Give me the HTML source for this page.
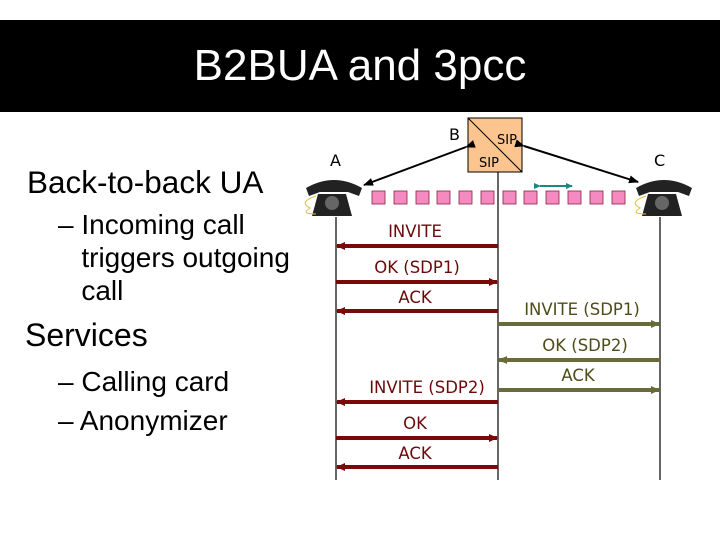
<!DOCTYPE html>
<html><head><meta charset="utf-8"><style>
body{margin:0;width:720px;height:540px;background:#fff;position:relative;overflow:hidden;font-family:"Liberation Sans",sans-serif}
.t{position:absolute;white-space:nowrap}
</style></head><body>
<div style="position:absolute;left:0;top:20px;width:720px;height:92px;background:#000"></div>
<div class="t" style="left:0;width:720px;text-align:center;top:41px;font-size:44px;color:#fff">B2BUA and 3pcc</div>
<div class="t" style="left:27px;top:164px;font-size:31.5px">Back-to-back UA</div>
<div class="t" style="left:58px;top:208px;font-size:28px;line-height:33px">– Incoming call<br>&nbsp;&nbsp;&nbsp;triggers outgoing<br>&nbsp;&nbsp;&nbsp;call</div>
<div class="t" style="left:25px;top:317px;font-size:32px">Services</div>
<div class="t" style="left:58px;top:362px;font-size:28px;line-height:39px">– Calling card<br>– Anonymizer</div>
<svg width="720" height="540" style="position:absolute;left:0;top:0" font-family="DejaVu Sans, sans-serif">
<defs>
<marker id="m" markerUnits="userSpaceOnUse" markerWidth="10" markerHeight="8" refX="9" refY="4" orient="auto"><path d="M0,0 L10,4 L0,8z" fill="#000"/></marker>
<marker id="r" markerUnits="userSpaceOnUse" markerWidth="9" markerHeight="8" refX="8" refY="4" orient="auto"><path d="M0,0 L9,4 L0,8z" fill="#7a0a0a"/></marker>
<marker id="g" markerUnits="userSpaceOnUse" markerWidth="9" markerHeight="8" refX="8" refY="4" orient="auto"><path d="M0,0 L9,4 L0,8z" fill="#6b6b3a"/></marker>
<marker id="c" markerUnits="userSpaceOnUse" markerWidth="7" markerHeight="6" refX="6" refY="3" orient="auto"><path d="M0,0 L7,3 L0,6z" fill="#1a8a80"/></marker>
</defs>
<rect x="468" y="118" width="54" height="54" fill="#fcc58f" stroke="#000"/>
<line x1="468" y1="118" x2="522" y2="172" stroke="#000"/>
<text x="497" y="144" font-size="13">SIP</text>
<text x="479" y="167" font-size="13">SIP</text>
<text x="449" y="140" font-size="16">B</text>
<text x="330" y="166" font-size="16">A</text>
<text x="654" y="166" font-size="16">C</text>
<line x1="466" y1="147" x2="364" y2="185" stroke="#000" stroke-width="2" marker-start="url(#m)" marker-end="url(#m)"/>
<line x1="524" y1="146" x2="638" y2="182" stroke="#000" stroke-width="2" marker-start="url(#m)" marker-end="url(#m)"/>
<g fill="#f48ac0" stroke="#8a2040" stroke-width="0.8">
<rect x="372" y="191" width="13" height="13"/><rect x="394" y="191" width="13" height="13"/><rect x="416" y="191" width="13" height="13"/><rect x="437" y="191" width="13" height="13"/><rect x="459" y="191" width="13" height="13"/><rect x="481" y="191" width="13" height="13"/><rect x="503" y="191" width="13" height="13"/><rect x="524" y="191" width="13" height="13"/><rect x="546" y="191" width="13" height="13"/><rect x="568" y="191" width="13" height="13"/><rect x="590" y="191" width="13" height="13"/><rect x="612" y="191" width="13" height="13"/>
</g>
<line x1="540" y1="186" x2="572" y2="186" stroke="#1a8a80" stroke-width="2" marker-start="url(#c)" marker-end="url(#c)"/>
<g fill="#222">
<path d="M306,188 Q334,172 362,188 L359,196 L348,192 L320,192 L309,196z"/>
<path d="M318,194 L346,194 L352,216 L312,216z"/>
<circle cx="332" cy="203" r="7" fill="#666"/>
<path d="M636,188 Q664,172 692,188 L689,196 L678,192 L650,192 L639,196z"/>
<path d="M648,194 L676,194 L682,216 L642,216z"/>
<circle cx="662" cy="203" r="7" fill="#666"/>
</g>
<path d="M316,196 Q298,202 310,208 Q300,214 316,214" stroke="#e0c040" fill="none"/>
<path d="M646,196 Q628,202 640,208 Q630,214 646,214" stroke="#e0c040" fill="none"/>
<g stroke="#000" stroke-width="1.2">
<line x1="336" y1="217" x2="336" y2="480"/>
<line x1="498" y1="172" x2="498" y2="480"/>
<line x1="660" y1="217" x2="660" y2="480"/>
</g>
<g stroke="#7a0a0a" stroke-width="4">
<line x1="498" y1="246" x2="337" y2="246" marker-end="url(#r)"/>
<line x1="336" y1="282" x2="497" y2="282" marker-end="url(#r)"/>
<line x1="498" y1="311" x2="337" y2="311" marker-end="url(#r)"/>
<line x1="498" y1="402" x2="337" y2="402" marker-end="url(#r)"/>
<line x1="336" y1="438" x2="497" y2="438" marker-end="url(#r)"/>
<line x1="498" y1="467" x2="337" y2="467" marker-end="url(#r)"/>
</g>
<g stroke="#6b6b3a" stroke-width="4">
<line x1="498" y1="324" x2="659" y2="324" marker-end="url(#g)"/>
<line x1="660" y1="360" x2="499" y2="360" marker-end="url(#g)"/>
<line x1="498" y1="390" x2="659" y2="390" marker-end="url(#g)"/>
</g>
<g fill="#6b0a0a" font-size="16.5" text-anchor="middle">
<text x="415" y="237">INVITE</text>
<text x="417" y="273">OK (SDP1)</text>
<text x="415" y="303">ACK</text>
<text x="427" y="393">INVITE (SDP2)</text>
<text x="415" y="429">OK</text>
<text x="415" y="459">ACK</text>
</g>
<g fill="#4d4d1a" font-size="16.5" text-anchor="middle">
<text x="582" y="315">INVITE (SDP1)</text>
<text x="585" y="351">OK (SDP2)</text>
<text x="578" y="381">ACK</text>
</g>
</svg>
</body></html>
